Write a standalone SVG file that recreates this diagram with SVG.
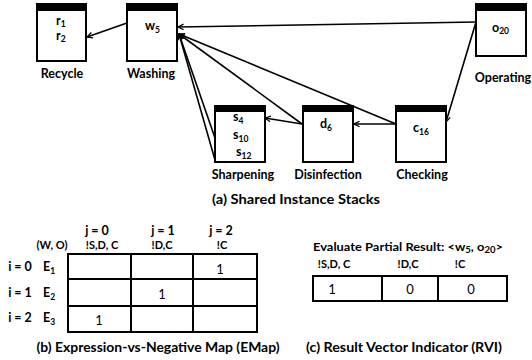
<svg xmlns="http://www.w3.org/2000/svg" width="532" height="360" viewBox="0 0 532 360">
<defs>
<style>
text{font-family:Lato,"Open Sans","Liberation Sans",sans-serif;font-weight:bold;fill:#000}
.box{fill:#fff;stroke:#000;stroke-width:2}
.hdr{fill:#000}
.lbl{font-size:12.5px;text-anchor:middle}
.it{font-size:12.5px;font-weight:bold}
.sub{font-size:8.5px}
.cap{font-size:14px;text-anchor:middle}
.th{font-size:12.5px;text-anchor:middle}
.th2{font-size:11px;text-anchor:middle}
.val{font-size:13px;font-weight:normal;text-anchor:middle}
.grid{fill:none;stroke:#000;stroke-width:2}
.conn line{stroke:#000;stroke-width:1.6;fill:none}
</style>
<marker id="ah" viewBox="0 0 10 10" refX="9" refY="5" markerWidth="7" markerHeight="7" markerUnits="userSpaceOnUse" orient="auto">
<path d="M1,1 L9,5 L1,9" fill="none" stroke="#000" stroke-width="1.8"/>
</marker>
</defs>
<rect width="532" height="360" fill="#fff"/>

<g class="conn">
<line x1="127" y1="23" x2="87" y2="37" marker-end="url(#ah)"/>
<line x1="476" y1="22" x2="178" y2="27" marker-end="url(#ah)"/>
<line x1="476" y1="22" x2="446" y2="122" marker-end="url(#ah)"/>
<line x1="396" y1="124" x2="354" y2="124" marker-end="url(#ah)"/>
<line x1="302" y1="124" x2="265" y2="118" marker-end="url(#ah)"/>
<line x1="396" y1="124" x2="179" y2="34" marker-end="url(#ah)"/>
<line x1="302" y1="124" x2="179" y2="34" marker-end="url(#ah)"/>
<line x1="215" y1="138" x2="179" y2="34" marker-end="url(#ah)"/>
<line x1="215" y1="160" x2="179" y2="34" marker-end="url(#ah)"/>
</g>

<g id="recycle">
<rect class="box" x="37" y="4" width="49" height="57"/>
<rect class="hdr" x="36" y="3" width="51" height="8"/>
<text class="it" x="56" y="25">r<tspan class="sub" dy="2">1</tspan></text>
<text class="it" x="56" y="40">r<tspan class="sub" dy="2">2</tspan></text>
<text class="lbl" x="62" y="78">Recycle</text>
</g>

<g id="washing">
<rect class="box" x="127" y="4" width="50" height="57"/>
<rect class="hdr" x="126" y="3" width="52" height="8"/>
<text class="it" x="145" y="30">w<tspan class="sub" dy="3">5</tspan></text>
<text class="lbl" x="151" y="78">Washing</text>
</g>

<g id="operating">
<rect class="box" x="476" y="4" width="50" height="52"/>
<rect class="hdr" x="475" y="3" width="52" height="8"/>
<text class="it" x="492" y="32">o<tspan class="sub" dy="2">20</tspan></text>
<text class="lbl" x="503" y="82">Operating</text>
</g>

<g id="sharpening">
<rect class="box" x="215" y="106" width="50" height="56"/>
<rect class="hdr" x="214" y="105" width="52" height="7"/>
<text class="it" x="233" y="121">s<tspan class="sub" dy="3">4</tspan></text>
<text class="it" x="233" y="139">s<tspan class="sub" dy="3">10</tspan></text>
<text class="it" x="236" y="156">s<tspan class="sub" dy="3">12</tspan></text>
<text class="lbl" x="243" y="179">Sharpening</text>
</g>

<g id="disinfection">
<rect class="box" x="303" y="106" width="50" height="56"/>
<rect class="hdr" x="302" y="105" width="52" height="7"/>
<text class="it" x="320" y="128">d<tspan class="sub" dy="3">6</tspan></text>
<text class="lbl" x="328" y="179">Disinfection</text>
</g>

<g id="checking">
<rect class="box" x="396" y="106" width="50" height="56"/>
<rect class="hdr" x="395" y="105" width="52" height="7"/>
<text class="it" x="413" y="132">c<tspan class="sub" dy="3">16</tspan></text>
<text class="lbl" x="422" y="179">Checking</text>
</g>

<text class="cap" x="296" y="204" textLength="168" lengthAdjust="spacingAndGlyphs">(a) Shared  Instance Stacks</text>

<g id="emap">
<text class="th" x="97" y="235">j = 0</text>
<text class="th" x="163" y="235">j = 1</text>
<text class="th" x="221" y="235">j = 2</text>
<text class="th2" x="52" y="249">(W, O)</text>
<text class="th2" x="102" y="249">!S,D, C</text>
<text class="th2" x="162" y="249">!D,C</text>
<text class="th2" x="222" y="249">!C</text>
<text class="th" x="20" y="271">i = 0</text>
<text class="th" x="20" y="297">i = 1</text>
<text class="th" x="20" y="322">i = 2</text>
<text class="it" x="43" y="271">E<tspan class="sub" dy="3">1</tspan></text>
<text class="it" x="43" y="297">E<tspan class="sub" dy="3">2</tspan></text>
<text class="it" x="43" y="322">E<tspan class="sub" dy="3">3</tspan></text>
<rect class="grid" x="68" y="254" width="189" height="78"/>
<line class="grid" x1="68" y1="279" x2="257" y2="279"/>
<line class="grid" x1="68" y1="306" x2="257" y2="306"/>
<line class="grid" x1="131" y1="254" x2="131" y2="332"/>
<line class="grid" x1="193" y1="254" x2="193" y2="332"/>
<text class="val" x="220" y="274">1</text>
<text class="val" x="162" y="299">1</text>
<text class="val" x="99" y="325">1</text>
<text class="cap" x="158" y="352" textLength="243" lengthAdjust="spacingAndGlyphs">(b) Expression-vs-Negative Map (EMap)</text>
</g>

<g id="rvi">
<text style="font-size:11.5px" x="313" y="251" textLength="190" lengthAdjust="spacingAndGlyphs">Evaluate Partial Result:  &lt;w<tspan class="sub" dy="2">5</tspan><tspan dy="-2">, o</tspan><tspan class="sub" dy="2">20</tspan><tspan dy="-2">&gt;</tspan></text>
<text class="th2" x="334" y="268">!S,D, C</text>
<text class="th2" x="408" y="268">!D,C</text>
<text class="th2" x="460" y="268">!C</text>
<rect class="grid" x="313" y="276" width="194" height="25"/>
<line class="grid" x1="382" y1="276" x2="382" y2="301"/>
<line class="grid" x1="438" y1="276" x2="438" y2="301"/>
<text class="val" x="332" y="294">1</text>
<text class="val" x="410" y="294">0</text>
<text class="val" x="471" y="294">0</text>
<text class="cap" x="404" y="352" textLength="196" lengthAdjust="spacingAndGlyphs">(c) Result Vector Indicator (RVI)</text>
</g>
</svg>
